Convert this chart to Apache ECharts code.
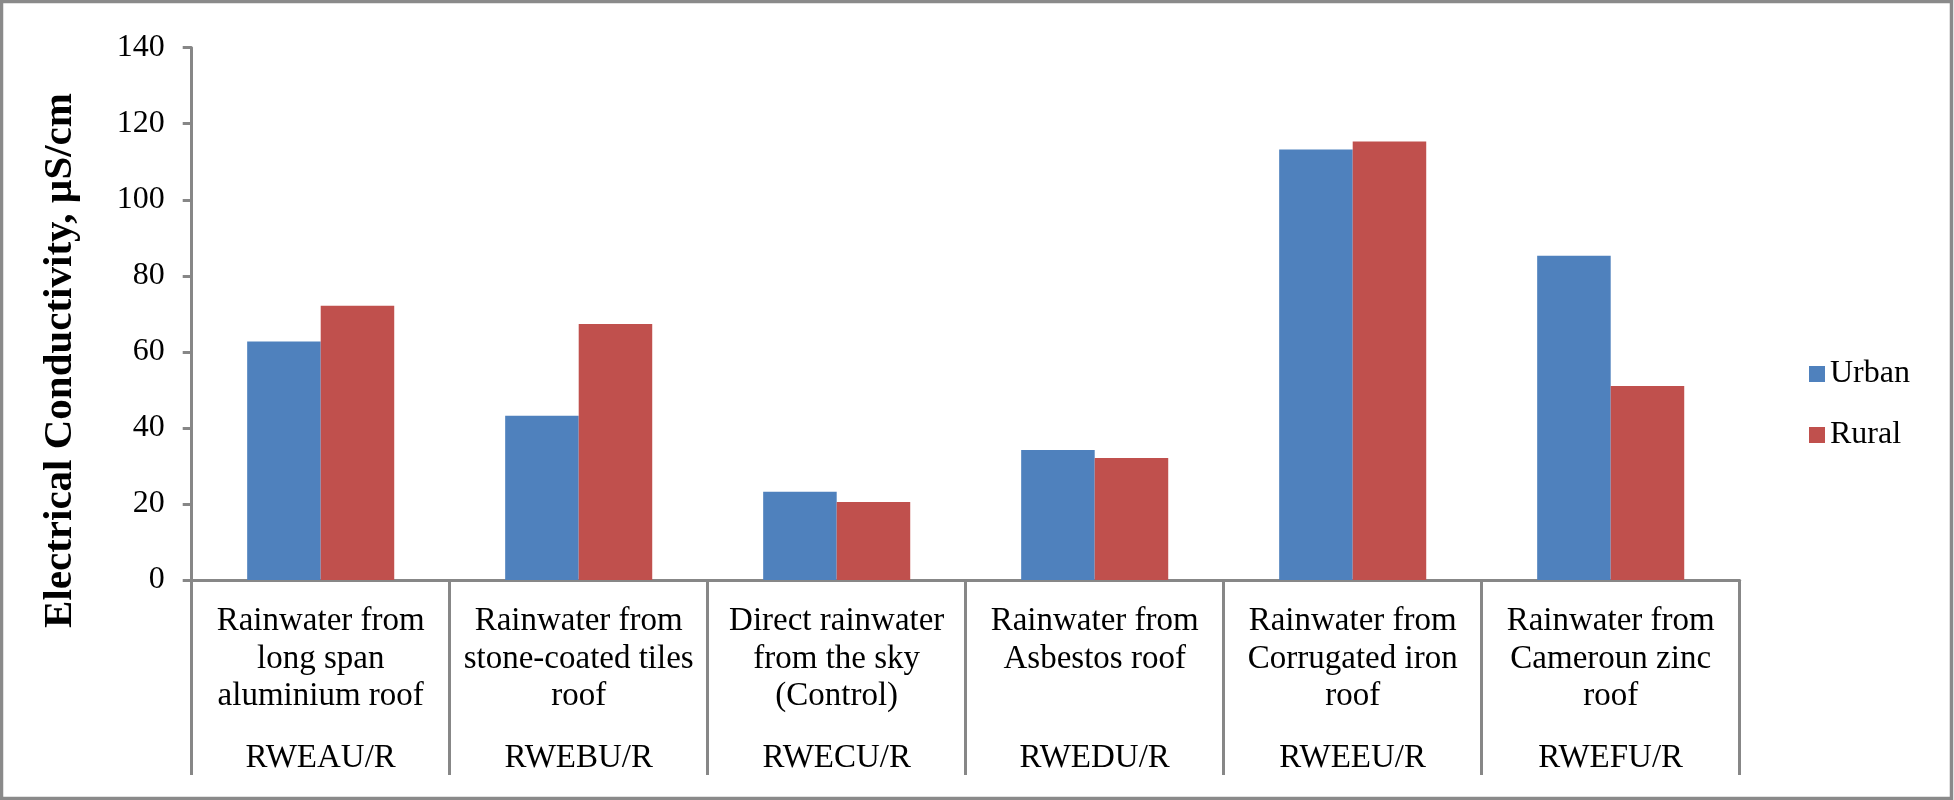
<!DOCTYPE html>
<html>
<head>
<meta charset="utf-8">
<script src="https://cdn.jsdelivr.net/npm/echarts@6/dist/echarts.min.js"></script>
<style>
html,body{margin:0;padding:0;background:#fff;}
#chart{width:1954px;height:800px;}
</style>
</head>
<body>
<div id="chart"></div>
<script>
const categoryLines = [
  ["Rainwater from", "long span", "aluminium roof"],
  ["Rainwater from", "stone-coated tiles", "roof"],
  ["Direct rainwater", "from the sky", "(Control)"],
  ["Rainwater from", "Asbestos roof", ""],
  ["Rainwater from", "Corrugated iron", "roof"],
  ["Rainwater from", "Cameroun zinc", "roof"]
];
const codes = ["RWEAU/R", "RWEBU/R", "RWECU/R", "RWEDU/R", "RWEEU/R", "RWEFU/R"];
const urban = [62.7, 43.2, 23.2, 34.2, 113.2, 85.3];
const rural = [72.1, 67.3, 20.5, 32.1, 115.3, 51.0];
const yTicks = { min: 0, max: 140, interval: 20 };
const seriesNames = ["Urban", "Rural"];
const yTitle = "Electrical Conductivity, \u00b5S/cm";

const FONT = "'Liberation Serif', 'Times New Roman', serif";
const AXIS_COLOR = "#878787";

const chart = echarts.init(document.getElementById('chart'));
const option = {
  animation: false,
  backgroundColor: '#ffffff',
  grid: { left: 191.7, right: 214.3, top: 47.7, bottom: 220, containLabel: false },
  legend: {
    orient: 'vertical',
    left: 1804,
    top: 353,
    itemWidth: 16,
    itemHeight: 16,
    itemGap: 29,
    icon: 'rect',
    data: seriesNames,
    textStyle: { fontFamily: FONT, fontSize: 32, color: '#000', lineHeight: 32 }
  },
  xAxis: {
    type: 'category',
    data: codes,
    axisLine: { show: true, lineStyle: { color: AXIS_COLOR, width: 3 } },
    axisTick: { show: true, length: 195, interval: 0, lineStyle: { color: AXIS_COLOR, width: 3 } },
    axisLabel: {
      interval: 0,
      margin: 23,
      color: '#000',
      fontFamily: FONT,
      fontSize: 33,
      formatter: function (value, idx) {
        const lines = categoryLines[idx].map(l => '{a|' + (l === '' ? ' ' : l) + '}');
        return lines.join('\n') + '\n{b|' + value + '}';
      },
      rich: {
        a: { fontFamily: FONT, fontSize: 33, lineHeight: 37.5, color: '#000' },
        b: { fontFamily: FONT, fontSize: 33, lineHeight: 86, color: '#000' }
      }
    }
  },
  yAxis: {
    type: 'value',
    min: yTicks.min,
    max: yTicks.max,
    interval: yTicks.interval,
    axisLine: { show: true, lineStyle: { color: AXIS_COLOR, width: 3 } },
    axisTick: { show: true, length: 9, lineStyle: { color: AXIS_COLOR, width: 3 } },
    splitLine: { show: false },
    axisLabel: { color: '#000', fontFamily: FONT, fontSize: 32, margin: 27 }
  },
  series: [
    { name: seriesNames[0], type: 'bar', data: urban, barGap: '0%', barCategoryGap: '43%',
      itemStyle: { color: '#4F81BD' } },
    { name: seriesNames[1], type: 'bar', data: rural, barGap: '0%', barCategoryGap: '43%',
      itemStyle: { color: '#C0504D' } }
  ],
  graphic: [
    {
      type: 'rect',
      silent: true,
      shape: { x: 1.5, y: 1.5, width: 1950, height: 797 },
      style: { fill: 'none', stroke: '#8a8a8a', lineWidth: 3.5 }
    },
    {
      type: 'text',
      x: 60,
      y: 360.5,
      rotation: Math.PI / 2,
      style: {
        text: yTitle,
        fontFamily: FONT,
        fontSize: 41,
        fontWeight: 'bold',
        fill: '#000',
        textAlign: 'center',
        textVerticalAlign: 'middle'
      }
    }
  ]
};
chart.setOption(option);
</script>
</body>
</html>
